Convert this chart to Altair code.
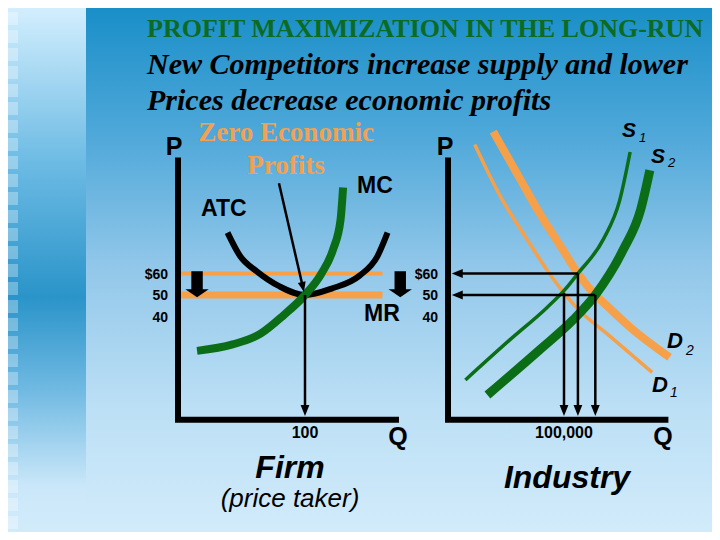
import altair as alt
import pandas as pd

# ---------------- chart content ----------------
title_lines = ["PROFIT MAXIMIZATION IN THE LONG-RUN",
               "New Competitors increase supply and lower",
               "Prices decrease economic profits"]
callout_lines = ["Zero Economic", "Profits"]

price_levels = [60, 50, 40]
price_labels = ["$60", "50", "40"]
old_price, new_price = 60, 50

# Firm (price taker): Q in units, P in $
firm_q_star = 100
firm_q_label = "100"
atc_q = [39, 49, 62, 80, 100, 121, 143, 157, 165]
atc_p = [79, 68, 61, 54, 50, 53, 59, 68, 79]
mc_q = [15, 43, 65, 83, 100, 113, 122, 128, 130]
mc_p = [24, 27, 32, 40.5, 50, 60, 71, 85, 100]
firm_price_line_end = 161
block_arrow_q = [15, 175]
block_arrow_p = [55, 55]
pointer_q = [79.5, 98.3]
pointer_p = [102, 53.7]

# Industry: Q in thousands, P in $
ind_q_label = "100,000"
d1_q = [23, 45, 68, 90, 100, 111, 137, 176]
d1_p = [120, 96, 76, 58, 51, 44, 32, 14]
d2_q = [39, 60, 79, 99, 112, 127, 137, 157, 191]
d2_p = [126, 106, 88, 71, 60, 50, 45, 35, 21]
s1_q = [15, 53, 85, 100, 112, 134, 148, 157]
s1_p = [10.5, 29, 44, 52, 60, 76, 94, 116.5]
s2_q = [34, 79, 108, 127, 151, 166, 174]
s2_p = [3.5, 24.5, 38.5, 50, 71, 89.5, 108]
eq_q = [100, 112, 127]          # D1xS1, D2xS1, D2xS2
eq_p = [51, 60, 50]

axis_top_p, axis_floor_p = 114, -8
firm_axis_end_q, ind_axis_end_q = 174, 190

# ---------------- layout / styling ----------------
W, H = 704, 524
SX = [8, 8 + W]          # reference-pixel frame visible in the page
SY = [8 + H, 8]

def lin_domain(p0, v0, p1, v1, lo, hi):
    k = (v1 - v0) / (p1 - p0)
    return [v0 + (lo - p0) * k, v0 + (hi - p0) * k]

P_DOM = lin_domain(295, 50, 273.5, 60, SY[0], SY[1])
FQ_DOM = lin_domain(178, 0, 305, 100, SX[0], SX[1])
IQ_DOM = lin_domain(448, 0, 564, 100, SX[0], SX[1])

SERIF = "Liberation Serif"
SANS = "Liberation Sans"
ORANGE = "#f6a04a"
GREEN = "#0b6e17"

def sc(dom):
    return alt.Scale(domain=dom, nice=False, zero=False)

def xy(xdom, ydom):
    return dict(x=alt.X("x:Q", scale=sc(xdom), axis=None),
                y=alt.Y("y:Q", scale=sc(ydom), axis=None))

def texts(rows, xdom, ydom, font, size, color="black", weight="normal",
          style="normal", align="left", baseline="alphabetic", dx=0, dy=0):
    df = pd.DataFrame(rows, columns=["t", "x", "y"])
    return alt.Chart(df).mark_text(font=font, fontSize=size, fontWeight=weight,
                                   fontStyle=style, color=color, align=align,
                                   baseline=baseline, dx=dx, dy=dy).encode(
        text="t:N", **xy(xdom, ydom))

def curve(q, p, xdom, color, width, interp="monotone", cap="butt"):
    df = pd.DataFrame({"x": q, "y": p, "i": list(range(len(q)))})
    return alt.Chart(df).mark_line(color=color, strokeWidth=width, interpolate=interp,
                                   strokeCap=cap, strokeJoin="miter").encode(
        order="i:Q", **xy(xdom, P_DOM))

def segs(rows, xdom, color="black", width=2.5):
    df = pd.DataFrame(rows, columns=["x", "y", "x2", "y2"])
    return alt.Chart(df).mark_rule(color=color, strokeWidth=width).encode(
        x2="x2:Q", y2="y2:Q", **xy(xdom, P_DOM))

def heads(q, p, xdom, shape, size, angle=0):
    df = pd.DataFrame({"x": q, "y": p})
    return alt.Chart(df).mark_point(shape=shape, size=size, filled=True, color="black",
                                    opacity=1, strokeWidth=0, angle=angle).encode(**xy(xdom, P_DOM))

BLOCK_ARROW = "M-0.44,-1L0.44,-1L0.44,0.38L0.9,0.38L0,1L-0.9,0.38L-0.44,0.38Z"
HEAD_DOWN = "M-0.8,-1L0.8,-1L0,1Z"
HEAD_LEFT = "M1,-0.8L1,0.8L-1,0Z"

def grad(stops):
    return alt.Gradient(gradient="linear", x1=0, x2=0, y1=0, y2=1,
                        stops=[alt.GradientStop(offset=o, color=c) for o, c in stops])

layers = []
# background panels
main_bg = pd.DataFrame({"x": [86], "x2": [720], "y": [0], "y2": [540]})
strip_bg = pd.DataFrame({"x": [0], "x2": [86], "y": [0], "y2": [540]})
layers.append(alt.Chart(main_bg).mark_rect(color=grad(
    [(0, "#168dc7"), (0.25, "#4fa8d9"), (0.5, "#93c8ea"), (0.75, "#bbdff5"), (1, "#d3ecfb")])).encode(
    x2="x2:Q", y2="y2:Q", **xy(SX, SY)))
layers.append(alt.Chart(strip_bg).mark_rect(color=grad(
    [(0, "#d8f1ff"), (0.3, "#6dbbe4"), (0.55, "#2a94c9"), (0.72, "#6fb9e2"), (0.9, "#cae7f9"), (1, "#d3ecfb")])).encode(
    x2="x2:Q", y2="y2:Q", **xy(SX, SY)))
sq_top = [12, 30, 48, 66, 84, 102, 120, 138, 156, 174, 192, 210, 228, 246, 264, 282,
          300, 318, 336, 354, 372, 390, 408, 426, 444, 462, 480, 498, 516, 534]
sq = pd.DataFrame({"y": sq_top, "y2": [v + 13 for v in sq_top], "x": [6] * len(sq_top), "x2": [18] * len(sq_top)})
layers.append(alt.Chart(sq).mark_rect(color="white", opacity=0.3).encode(
    x2="x2:Q", y2="y2:Q", **xy(SX, SY)))

# headings
layers.append(texts([(title_lines[0], 147, 37)], SX, SY, SERIF, 26, color="#0c6b22", weight="bold"))
layers.append(texts([(title_lines[1], 147, 74), (title_lines[2], 147, 110)], SX, SY, SERIF, 30,
                    weight="bold", style="italic"))
layers.append(texts([(callout_lines[0], 286, 141), (callout_lines[1], 286, 174)], SX, SY, SERIF, 27,
                    color="#f2a150", weight="bold", align="center"))

# ---- firm panel ----
layers.append(segs([(0, old_price, firm_price_line_end, old_price)], FQ_DOM, ORANGE, 4))
layers.append(segs([(0, new_price, firm_price_line_end, new_price)], FQ_DOM, ORANGE, 7))
layers.append(curve(atc_q, atc_p, FQ_DOM, "black", 6))
layers.append(curve(mc_q, mc_p, FQ_DOM, GREEN, 8))
layers.append(curve([0, 0, firm_axis_end_q], [axis_top_p, axis_floor_p, axis_floor_p], FQ_DOM,
                    "black", 6, interp="linear"))
layers.append(heads(block_arrow_q, block_arrow_p, FQ_DOM, BLOCK_ARROW, 676))
layers.append(segs([(pointer_q[0], pointer_p[0], pointer_q[1], pointer_p[1]),
                    (firm_q_star, new_price, firm_q_star, -4)], FQ_DOM))
layers.append(heads([pointer_q[1]], [pointer_p[1]], FQ_DOM, HEAD_DOWN, 100, angle=347))
layers.append(heads([firm_q_star], [-3.7], FQ_DOM, HEAD_DOWN, 121))
layers.append(texts([(l, 0, v) for l, v in zip(price_labels, price_levels)], FQ_DOM, P_DOM, SANS, 14,
                    weight="bold", align="right", baseline="middle", dx=-10, dy=1))
layers.append(texts([(firm_q_label, firm_q_star, axis_floor_p)], FQ_DOM, P_DOM, SANS, 16,
                    weight="bold", align="center", baseline="middle", dy=13))

# ---- industry panel ----
layers.append(curve(d1_q, d1_p, IQ_DOM, ORANGE, 3.5))
layers.append(curve(d2_q, d2_p, IQ_DOM, ORANGE, 8))
layers.append(curve(s1_q, s1_p, IQ_DOM, GREEN, 3.5))
layers.append(curve(s2_q, s2_p, IQ_DOM, GREEN, 9))
layers.append(curve([0, 0, ind_axis_end_q], [axis_top_p, axis_floor_p, axis_floor_p], IQ_DOM,
                    "black", 6, interp="linear"))
layers.append(segs([(eq_q[1], eq_p[1], 8, eq_p[1]), (eq_q[2], eq_p[2], 8, eq_p[2])] +
                   [(q, p, q, -3.7) for q, p in zip(eq_q, eq_p)], IQ_DOM))
layers.append(heads([8, 8], [eq_p[1], eq_p[2]], IQ_DOM, HEAD_LEFT, 121))
layers.append(heads(eq_q, [-3.7] * 3, IQ_DOM, HEAD_DOWN, 121))
layers.append(texts([(l, 0, v) for l, v in zip(price_labels, price_levels)], IQ_DOM, P_DOM, SANS, 14,
                    weight="bold", align="right", baseline="middle", dx=-10, dy=1))
layers.append(texts([(ind_q_label, eq_q[0], axis_floor_p)], IQ_DOM, P_DOM, SANS, 16,
                    weight="bold", align="center", baseline="middle", dy=13))

# ---- labels in slide frame ----
layers.append(texts([("P", 174, 155), ("P", 445, 155), ("Q", 398, 445), ("Q", 663, 445)], SX, SY,
                    SANS, 25, weight="bold", align="center"))
layers.append(texts([("ATC", 201, 216), ("MC", 357, 193), ("MR", 364, 321)], SX, SY, SANS, 23,
                    weight="bold"))
layers.append(texts([("Firm", 290, 478), ("Industry", 567, 488)], SX, SY, SANS, 32,
                    weight="bold", style="italic", align="center"))
layers.append(texts([("(price taker)", 290, 507)], SX, SY, SANS, 26, style="italic", align="center"))
layers.append(texts([("S", 622, 137), ("S", 651, 163)], SX, SY, SANS, 21, weight="bold", style="italic"))
layers.append(texts([("1", 639, 142), ("2", 668, 167)], SX, SY, SANS, 13, style="italic"))
layers.append(texts([("D", 667, 348), ("D", 652, 392)], SX, SY, SANS, 22, weight="bold", style="italic"))
layers.append(texts([("2", 686, 355), ("1", 670, 397)], SX, SY, SANS, 14, style="italic"))

chart = alt.layer(*layers).resolve_scale(x="independent", y="independent").properties(
    width=W, height=H, padding=0, autosize=alt.AutoSizeParams(type="none")
).configure_view(stroke=None)

chart.save("out.html", embed_options={"renderer": "svg", "actions": False})
